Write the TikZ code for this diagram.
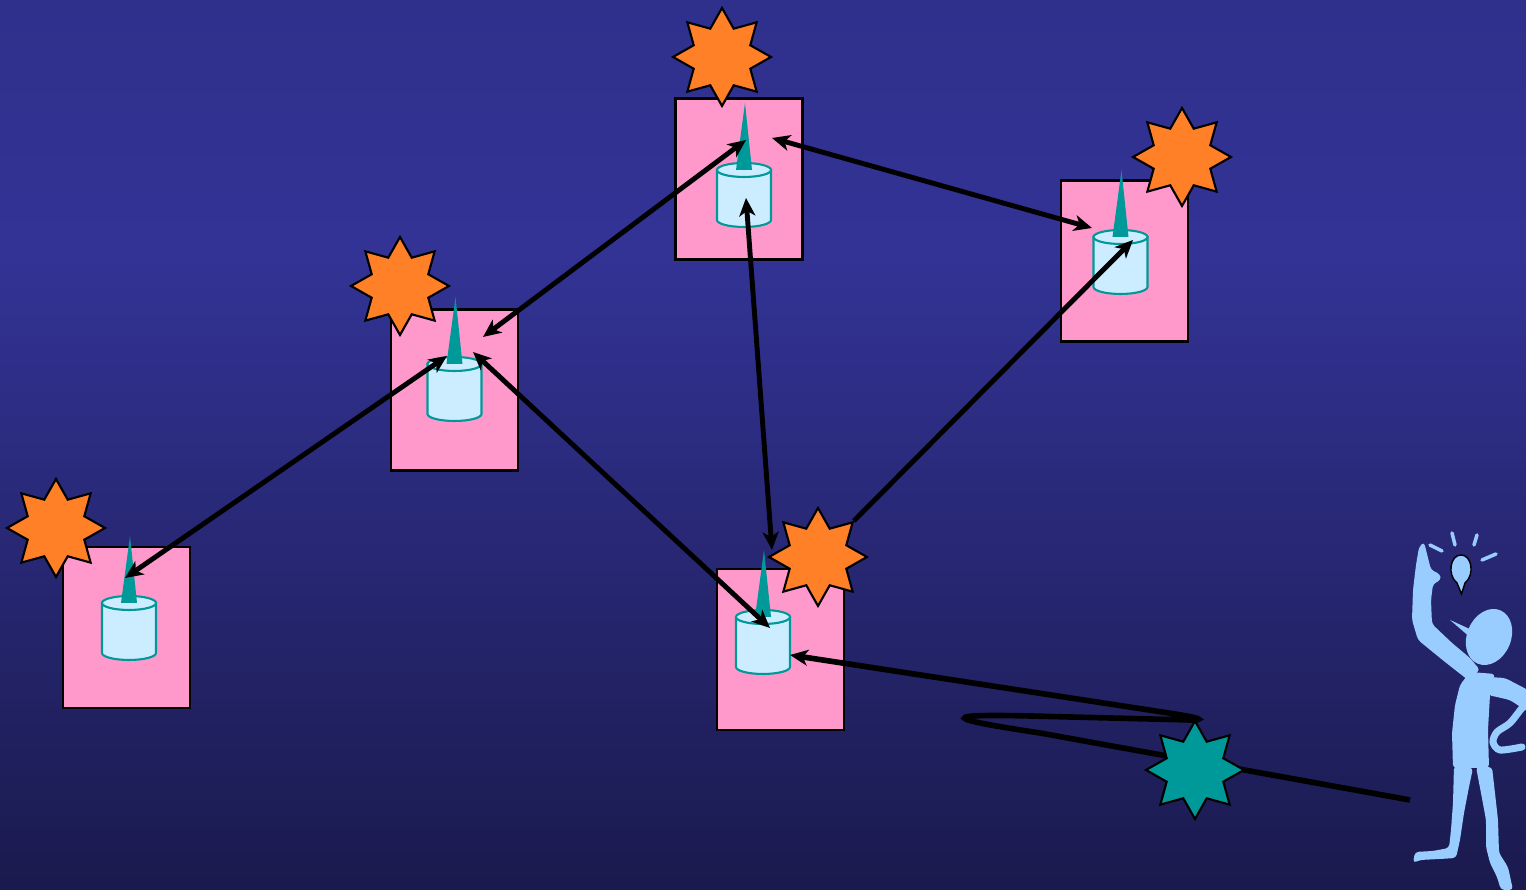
\documentclass[tikz,border=0pt]{standalone}
\usepackage{tikz}
\usetikzlibrary{shapes.geometric,arrows.meta}

\definecolor{bgtop}{RGB}{47,47,140}
\definecolor{bgmid}{RGB}{51,51,150}
\definecolor{bgbot}{RGB}{26,26,78}
\definecolor{hostpink}{RGB}{255,153,204}
\definecolor{disklight}{RGB}{204,236,255}
\definecolor{tealish}{RGB}{0,153,153}
\definecolor{burstorange}{RGB}{255,128,38}
\definecolor{personblue}{RGB}{153,204,255}

\begin{document}
\begin{tikzpicture}[>={Stealth[length=0.18cm,width=0.16cm,inset=0.05cm]},
	host/.style={rectangle,draw=black,fill=hostpink,line width=0.6pt,minimum width=1.27cm,minimum height=1.61cm,inner sep=0},
	disk/.style={draw=tealish,fill=disklight,line width=0.6pt},
	burst/.style={star,star points=8,star point ratio=1.6,minimum size=0.98cm,inner sep=0,draw=black,line width=0.6pt,fill=burstorange},
	link/.style={line width=1.4pt,<->}]
		\useasboundingbox (0,0) rectangle (15.26,8.90);
		\shade[top color=bgtop,bottom color=bgmid] (0,8.90) rectangle (15.26,6.40);
		\shade[top color=bgmid,bottom color=bgbot] (0,6.40) rectangle (15.26,0);
		
		%hosts with their disks
		\foreach \n/\bx/\by/\cx/\cy in {A/1.265/2.625/1.29/2.87, B/4.545/5.00/4.545/5.26, C/7.39/7.11/7.44/7.20, D/11.245/6.29/11.205/6.53, E/7.805/2.405/7.63/2.73}{
		\node[host] (box\n) at (\bx,\by) {};
		\filldraw[disk] (\cx-0.27,\cy) -- (\cx-0.27,\cy-0.5) arc[start angle=180,end angle=360,x radius=0.27,y radius=0.07] -- (\cx+0.27,\cy) -- cycle;
		\draw[disk] (\cx,\cy) ellipse[x radius=0.27,y radius=0.07];
		\fill[tealish] (\cx-0.08,\cy) -- (\cx+0.01,\cy+0.67) -- (\cx+0.08,\cy) -- cycle;
		\coordinate (disk\n) at (\cx,\cy);}
		
		\node[burst] (burstA) at (0.56,3.62) {};
		\node[burst] (burstB) at (4.00,6.04) {};
		\node[burst] (burstC) at (7.22,8.33) {};
		\node[burst] (burstD) at (11.82,7.33) {};
		\node[burst] (burstE) at (8.18,3.33) {};
		
		%links
		\draw[link] ([shift={(-0.04,0.25)}]diskA) -- ([shift={(-0.075,0.08)}]diskB);
		\draw[link] ([shift={(0.285,0.27)}]diskB) -- ([shift={(0.02,0.30)}]diskC);
		\draw[link] ([shift={(0.185,0.12)}]diskB) -- ([shift={(0.07,-0.11)}]diskE);
		\draw[link] ([shift={(0.02,-0.28)}]diskC) -- ([shift={(0.09,0.67)}]diskE);
		\draw[link] ([shift={(0.28,0.32)}]diskC) -- ([shift={(-0.285,0.09)}]diskD);
		\draw[link,->] (burstE) -- ([shift={(0.125,-0.03)}]diskD);
		
		%request loop
		\coordinate (hand) at (14.10,0.90);
		\draw[line width=1.6pt,->] (hand) -- (10.40,1.57) .. controls (9.40,1.72) and (9.42,1.76) .. (10.30,1.74) -- (11.90,1.70) .. controls (12.05,1.70) and (12.0,1.72) .. (11.75,1.76) -- ([shift={(0.27,-0.38)}]diskE);
		\node[burst,fill=tealish] (spark) at (11.95,1.20) {};
		
		%person
		\begin{scope}
		\clip (0,0) rectangle (15.26,8.90);
		\fill[personblue,rounded corners=1pt] (14.24,3.48) -- (14.31,3.20) -- (14.40,3.16) -- (14.41,3.10) -- (14.33,3.06) -- (14.31,2.90) -- (14.32,2.66) -- (14.52,2.47) -- (14.70,2.32) -- (14.80,2.20) -- (14.68,2.10) -- (14.45,2.28) -- (14.18,2.50) -- (14.12,2.70) -- (14.13,3.00) -- (14.16,3.25) -- (14.19,3.43) -- cycle;
		\fill[personblue,rounded corners=1pt] (14.70,2.18) -- (14.95,2.16) -- (14.90,1.95) -- (14.88,1.60) -- (14.89,1.22) -- (14.53,1.22) -- (14.52,1.57) -- (14.55,1.85) -- (14.60,2.05) -- cycle;
		\fill[personblue,rounded corners=1pt] (14.88,2.13) -- (15.05,2.12) -- (15.28,2.00) -- (15.28,1.78) -- (15.10,1.90) -- (14.88,1.95) -- cycle;
		\draw[personblue,line width=2pt,line cap=round] plot[smooth] coordinates {(15.30,1.86) (15.23,1.83) (15.10,1.67) (14.97,1.58) (14.93,1.48) (15.00,1.40) (15.22,1.43)};
		\fill[personblue,rounded corners=1pt] (14.54,1.24) -- (14.53,0.87) -- (14.51,0.60) -- (14.49,0.42) -- (14.33,0.39) -- (14.15,0.38) -- (14.13,0.27) -- (14.20,0.30) -- (14.40,0.31) -- (14.56,0.32) -- (14.60,0.50) -- (14.64,0.77) -- (14.69,1.03) -- (14.73,1.22) -- cycle;
		\fill[personblue,rounded corners=1pt] (14.76,1.23) -- (14.81,0.97) -- (14.86,0.70) -- (14.86,0.43) -- (14.90,0.27) -- (14.97,0.13) -- (15.01,0) -- (15.13,0) -- (15.08,0.23) -- (14.99,0.37) -- (14.98,0.70) -- (14.95,0.97) -- (14.92,1.23) -- cycle;
		\fill[personblue,rotate around={-23:(14.89,2.53)}] (14.89,2.53) ellipse[x radius=0.22,y radius=0.29];
		\fill[personblue] (14.50,2.70) -- (14.74,2.59) -- (14.71,2.52) -- cycle;
		\end{scope}
		\filldraw[fill=personblue,draw=black,line width=0.4pt] (14.615,2.96) -- (14.57,3.07) .. controls (14.47,3.15) and (14.50,3.35) .. (14.61,3.35) .. controls (14.72,3.35) and (14.75,3.15) .. (14.65,3.07) -- cycle;
		\draw[personblue,line width=1pt,line cap=round] (14.30,3.45) -- (14.42,3.39) (14.52,3.57) -- (14.55,3.45) (14.77,3.55) -- (14.74,3.45) (14.82,3.30) -- (14.96,3.36);
		
		\end{tikzpicture}
\end{document}
